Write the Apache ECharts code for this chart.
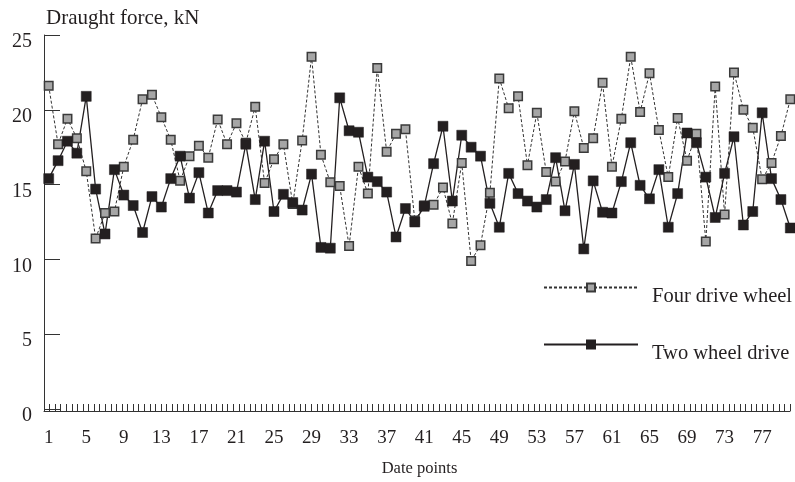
<!DOCTYPE html>
<html>
<head>
<meta charset="utf-8">
<script src="https://cdn.jsdelivr.net/npm/echarts@6/dist/echarts.min.js"></script>
<style>html,body{margin:0;padding:0;background:#fff}#c{width:795px;height:482px}</style>
</head>
<body>
<div id="c"></div>
<script>
const categories = [1,2,3,4,5,6,7,8,9,10,11,12,13,14,15,16,17,18,19,20,21,22,23,24,25,26,27,28,29,30,31,32,33,34,35,36,37,38,39,40,41,42,43,44,45,46,47,48,49,50,51,52,53,54,55,56,57,58,59,60,61,62,63,64,65,66,67,68,69,70,71,72,73,74,75,76,77,78,79,80];
const fourDriveWheel = [21.6,17.7,19.4,18.1,15.9,11.4,13.1,13.2,16.2,18.0,20.7,21.0,19.5,18.0,15.25,16.9,17.6,16.8,19.35,17.7,
  19.1,17.8,20.2,15.1,16.7,17.7,13.7,17.95,23.55,17.0,15.15,14.9,10.9,16.2,14.4,22.8,17.2,18.4,18.7,12.6,
  13.6,13.65,14.8,12.4,16.45,9.9,10.95,14.45,22.1,20.1,20.9,16.3,19.8,15.85,15.2,16.55,19.9,17.45,18.1,21.8,
  16.2,19.4,23.55,19.85,22.45,18.65,15.5,19.45,16.6,18.4,11.2,21.55,13.0,22.5,20.0,18.8,15.35,16.45,18.25,20.7];
const twoWheelDrive = [15.4,16.6,17.9,17.1,20.9,14.7,11.7,16.0,14.3,13.6,11.8,14.2,13.5,15.4,16.9,14.1,15.8,13.1,14.6,14.6,
  14.5,17.7,14.0,17.9,13.2,14.35,13.8,13.3,15.7,10.8,10.75,20.8,18.6,18.5,15.5,15.2,14.5,11.5,13.4,12.5,
  13.55,16.4,18.9,13.9,18.3,17.5,16.9,13.75,12.15,15.75,14.4,13.9,13.5,14.0,16.8,13.25,16.35,10.7,15.25,13.15,
  13.1,15.2,17.8,14.95,14.05,16.0,12.15,14.4,18.45,17.8,15.5,12.8,15.75,18.2,12.3,13.2,19.8,15.4,14.0,12.1];
const yTicks = {min: 0, max: 25, interval: 5};
const seriesNames = ['Four drive wheel', 'Two wheel drive'];

const FONT = '"Liberation Serif", "DejaVu Serif", serif';
const INK = '#231f20';
const legendText = {fontFamily: FONT, fontSize: 20.5, color: INK, lineHeight: 18, padding: [0, 0, 0, 9]};
const chart = echarts.init(document.getElementById('c'), null, {renderer: 'canvas'});
chart.setOption({
  animation: false,
  backgroundColor: '#fff',
  textStyle: {fontFamily: FONT, color: INK},
  grid: [
    {left: 44, top: 35, width: 757, height: 376},
    {left: 44, top: 35, width: 746, height: 376}
  ],
  legend: [
    {data: [seriesNames[0]], left: 543, top: 268, padding: 0, itemWidth: 94, itemHeight: 10,
     formatter: n => '\n' + n, textStyle: legendText},
    {data: [seriesNames[1]], left: 543, top: 325, padding: 0, itemWidth: 94, itemHeight: 10,
     formatter: n => '\n' + n, textStyle: legendText}
  ],
  xAxis: [
    {type: 'category', gridIndex: 0, data: categories, boundaryGap: true,
     axisLine: {show: false}, axisTick: {show: false}, splitLine: {show: false},
     axisLabel: {interval: 3, fontFamily: FONT, fontSize: 19, color: INK, margin: 20},
     name: 'Date points', nameLocation: 'middle', nameGap: 51,
     nameTextStyle: {fontFamily: FONT, fontSize: 16.5, color: INK}},
    {type: 'value', gridIndex: 1, min: 0, max: 134, interval: 1,
     axisLine: {show: true, lineStyle: {color: '#333', width: 1}},
     axisTick: {show: true, inside: true, length: 7, lineStyle: {color: '#333', width: 1}},
     axisLabel: {show: false}, splitLine: {show: false}}
  ],
  yAxis: [
    {type: 'value', gridIndex: 0, min: yTicks.min, max: yTicks.max, interval: yTicks.interval,
     axisLine: {show: true, lineStyle: {color: '#333', width: 1}},
     axisTick: {show: true, inside: true, length: 16, lineStyle: {color: '#333', width: 1}},
     splitLine: {show: false},
     axisLabel: {fontFamily: FONT, fontSize: 20, color: INK, margin: 12, verticalAlign: 'top', lineHeight: 14},
     name: 'Draught force, kN', nameLocation: 'end', nameGap: 6,
     nameTextStyle: {fontFamily: FONT, fontSize: 21, color: INK, align: 'left', padding: [0, 0, 0, 2]}},
    {type: 'value', gridIndex: 1, show: false, min: 0, max: 25}
  ],
  series: [
    {name: seriesNames[0], type: 'line', xAxisIndex: 0, yAxisIndex: 0, data: fourDriveWheel,
     symbol: 'rect', symbolSize: 8.5, showAllSymbol: true,
     lineStyle: {color: '#333', width: 1, type: [3, 2]},
     itemStyle: {color: '#a6a6a6', borderColor: '#3a3a3a', borderWidth: 1.5}},
    {name: seriesNames[1], type: 'line', xAxisIndex: 0, yAxisIndex: 0, data: twoWheelDrive,
     symbol: 'rect', symbolSize: 10, showAllSymbol: true,
     lineStyle: {color: INK, width: 1.3},
     itemStyle: {color: INK, borderColor: INK, borderWidth: 0.5}}
  ]
});
</script>
</body>
</html>
